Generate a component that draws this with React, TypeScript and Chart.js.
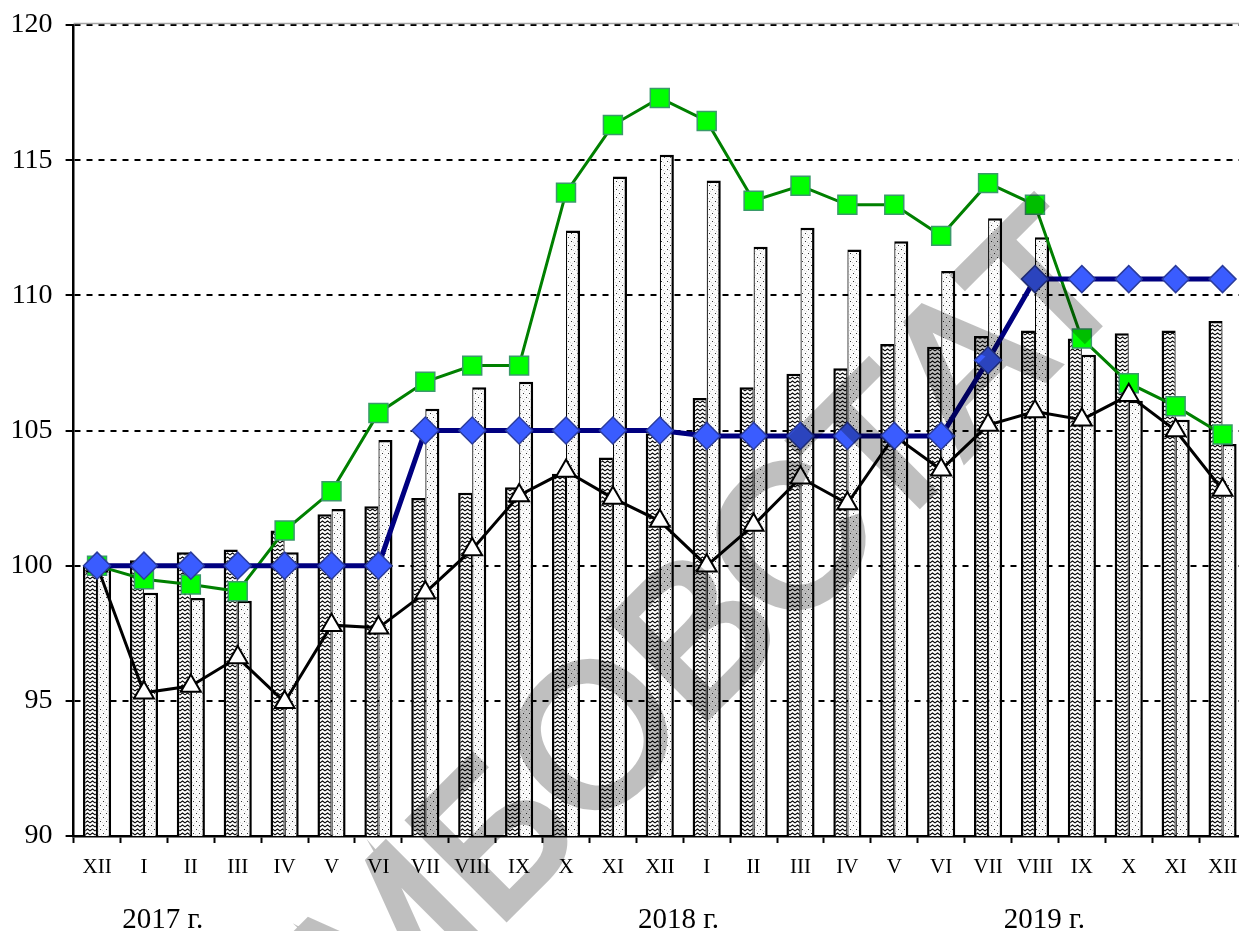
import React, { useEffect, useRef } from 'react';
import { Chart, registerables } from 'chart.js';

Chart.register(...registerables);

// ---------- data ----------
const categories = [
  'XII', 'I', 'II', 'III', 'IV', 'V', 'VI', 'VII', 'VIII', 'IX', 'X', 'XI', 'XII',
  'I', 'II', 'III', 'IV', 'V', 'VI', 'VII', 'VIII', 'IX', 'X', 'XI', 'XII',
];

const wavyBars = [
  100, 100.2, 100.5, 100.6, 101.3, 101.9, 102.2, 102.5, 102.7, 102.9, 103.4, 104.0, 104.9,
  106.2, 106.6, 107.1, 107.3, 108.2, 108.1, 108.5, 108.7, 108.4, 108.6, 108.7, 109.05,
];

const dottedBars = [
  99.9, 99.0, 98.8, 98.7, 100.5, 102.1, 104.65, 105.8, 106.6, 106.8, 112.4, 114.4, 115.2,
  114.25, 111.8, 112.5, 111.7, 112.0, 110.9, 112.85, 112.15, 107.8, 106.1, 105.4, 104.5,
];

const greenSquares = [
  100, 99.5, 99.3, 99.05, 101.3, 102.75, 105.65, 106.8, 107.4, 107.4, 113.8, 116.3, 117.3,
  116.45, 113.5, 114.05, 113.35, 113.35, 112.2, 114.15, 113.35, 108.4, 106.75, 105.9, 104.85,
];

const blueDiamonds = [
  100, 100, 100, 100, 100, 100, 100, 105, 105, 105, 105, 105, 105,
  104.8, 104.8, 104.8, 104.8, 104.8, 104.8, 107.6, 110.6, 110.6, 110.6, 110.6, 110.6,
];

const blackTriangles = [
  100, 95.3, 95.55, 96.6, 94.95, 97.8, 97.7, 99.0, 100.6, 102.6, 103.5, 102.5, 101.65,
  100.0, 101.5, 103.25, 102.3, 104.8, 103.55, 105.2, 105.7, 105.4, 106.3, 105.0, 102.8,
];

const yTickMin = 90;
const yTickMax = 120;
const yTickStep = 5;

const yearLabels = ['2017 г.', '2018 г.', '2019 г.'];
const yearLabelAnchors = [1.4, 12.4, 20.2]; // in category units

const watermarkText = 'ТАМБОВСТАТ';

// ---------- patterns ----------
function makeWavyPattern(ctx: CanvasRenderingContext2D): CanvasPattern | string {
  const c = document.createElement('canvas');
  c.width = 5;
  c.height = 4;
  const g = c.getContext('2d');
  if (!g) return '#888';
  g.fillStyle = '#ffffff';
  g.fillRect(0, 0, 5, 4);
  g.strokeStyle = '#000000';
  g.lineWidth = 1.1;
  g.beginPath();
  g.moveTo(-0.5, 3.3);
  g.lineTo(2.5, 1.0);
  g.lineTo(5.5, 3.3);
  g.stroke();
  return ctx.createPattern(c, 'repeat') || '#888';
}

function makeDottedPattern(ctx: CanvasRenderingContext2D): CanvasPattern | string {
  const c = document.createElement('canvas');
  c.width = 6;
  c.height = 8;
  const g = c.getContext('2d');
  if (!g) return '#eee';
  g.fillStyle = '#fbfbfb';
  g.fillRect(0, 0, 6, 8);
  g.fillStyle = '#d6d6d6';
  g.fillRect(3, 2, 1, 1);
  g.fillRect(0, 6, 1, 1);
  g.fillRect(5, 3, 1, 1);
  g.fillRect(2, 7, 1, 1);
  g.fillStyle = '#333333';
  g.fillRect(1, 1, 1, 1);
  g.fillRect(4, 5, 1, 1);
  return ctx.createPattern(c, 'repeat') || '#eee';
}

const serif = '"Liberation Serif", "Times New Roman", serif';

export default function App() {
  const canvasRef = useRef<HTMLCanvasElement | null>(null);

  useEffect(() => {
    document.body.style.margin = '0';
    const canvas = canvasRef.current;
    if (!canvas) return;
    const ctx = canvas.getContext('2d');
    if (!ctx) return;

    const wavy = makeWavyPattern(ctx);
    const dotted = makeDottedPattern(ctx);

    const decorPlugin = {
      id: 'decor',
      beforeDatasetsDraw(chart: any) {
        const { ctx: c, chartArea } = chart;
        c.save();
        c.strokeStyle = '#a6a6a6';
        c.lineWidth = 1.5;
        c.beginPath();
        c.moveTo(chartArea.left, chartArea.top - 1.5);
        c.lineTo(chartArea.right, chartArea.top - 1.5);
        c.stroke();
        c.restore();
      },
      afterDraw(chart: any) {
        const c: CanvasRenderingContext2D = chart.ctx;
        const xs = chart.scales.x;
        c.save();
        c.fillStyle = '#000';
        c.font = `29px ${serif}`;
        c.textAlign = 'center';
        c.textBaseline = 'alphabetic';
        yearLabels.forEach((t, i) => {
          c.fillText(t, xs.getPixelForValue(yearLabelAnchors[i]), 928);
        });
        c.restore();

        // watermark drawn opaque off-screen, then blended with transparency
        const off = document.createElement('canvas');
        off.width = chart.width;
        off.height = chart.height;
        const o: any = off.getContext('2d');
        if (!o) return;
        const size = 200;
        o.font = `${size}px "Liberation Sans", Arial, sans-serif`;
        o.fillStyle = '#000';
        o.strokeStyle = '#000';
        o.lineWidth = 7;
        o.translate(585, 738);
        o.rotate(-Math.PI / 4);
        const pre = o.measureText(watermarkText.slice(0, 4)).width;
        const ow = o.measureText(watermarkText.charAt(4)).width;
        o.textAlign = 'left';
        o.textBaseline = 'alphabetic';
        const tx = -(pre + ow / 2) + 10;
        const ty = 0.358 * size;
        o.fillText(watermarkText, tx, ty);
        o.strokeText(watermarkText, tx, ty);
        c.save();
        c.globalAlpha = 0.25;
        c.drawImage(off, 0, 0);
        c.restore();
      },
    };

    const chart = new Chart(ctx, {
      type: 'bar',
      data: {
        labels: categories,
        datasets: [
          {
            type: 'line',
            data: blueDiamonds,
            borderColor: '#000080',
            borderWidth: 5,
            pointStyle: 'rectRot',
            pointRadius: 13.5,
            pointBackgroundColor: '#3a5cff',
            pointBorderColor: '#2b3c9c',
            pointBorderWidth: 1.5,
            tension: 0,
            order: 0,
          },
          {
            type: 'line',
            data: blackTriangles,
            borderColor: '#000000',
            borderWidth: 3,
            pointStyle: 'triangle',
            pointRadius: 11.5,
            pointBackgroundColor: '#ffffff',
            pointBorderColor: '#000000',
            pointBorderWidth: 2,
            tension: 0,
            order: 1,
          },
          {
            type: 'line',
            data: greenSquares,
            borderColor: '#008000',
            borderWidth: 3,
            pointStyle: 'rect',
            pointRadius: 13.4,
            pointBackgroundColor: '#00ff00',
            pointBorderColor: '#3a9a6a',
            pointBorderWidth: 1.5,
            tension: 0,
            order: 2,
          },
          {
            type: 'bar',
            data: wavyBars,
            backgroundColor: wavy as any,
            borderColor: '#000',
            borderWidth: { left: 2.5, right: 1.2, top: 2.5, bottom: 0 } as any,
            borderSkipped: 'start',
            barPercentage: 1,
            categoryPercentage: 0.6,
            order: 3,
          },
          {
            type: 'bar',
            data: dottedBars,
            backgroundColor: dotted as any,
            borderColor: '#000',
            borderWidth: { left: 1.2, right: 2.5, top: 2.5, bottom: 0 } as any,
            borderSkipped: 'start',
            barPercentage: 1,
            categoryPercentage: 0.6,
            order: 3,
          },
        ] as any,
      },
      options: {
        responsive: false,
        animation: false,
        devicePixelRatio: 1,
        layout: { padding: { top: 25, left: 0, right: 0, bottom: 0 } },
        plugins: {
          legend: { display: false },
          tooltip: { enabled: false },
        },
        scales: {
          x: {
            offset: true,
            ticks: {
              color: '#000',
              font: { family: serif, size: 21 },
              padding: 12,
              autoSkip: false,
              maxRotation: 0,
            },
            grid: {
              display: true,
              drawOnChartArea: false,
              drawTicks: true,
              tickLength: 7,
              tickColor: '#000',
              tickWidth: 2,
              offset: true,
            },
            border: { display: true, color: '#000', width: 2.5 },
            afterFit: (s: any) => {
              s.height = 95;
              s.paddingLeft = 0;
              s.paddingRight = 0;
            },
          },
          y: {
            min: yTickMin,
            max: yTickMax,
            ticks: {
              stepSize: yTickStep,
              color: '#000',
              font: { family: serif, size: 28 },
              padding: 13,
            },
            grid: {
              color: '#000',
              lineWidth: 2,
              drawTicks: true,
              tickLength: 8,
              tickColor: '#000',
              tickWidth: 2,
              tickBorderDash: [],
            },
            border: { display: true, color: '#000', width: 2.5, dash: [6, 6] },
            afterFit: (s: any) => {
              s.width = 73.6;
              s.paddingTop = 0;
              s.paddingBottom = 0;
            },
          },
        },
      } as any,
      plugins: [decorPlugin],
    });

    return () => {
      chart.destroy();
    };
  }, []);

  return (
    <div style={{ width: 1239, height: 931, overflow: 'hidden', background: '#fff' }}>
      <canvas ref={canvasRef} width={1261} height={931} style={{ width: 1261, height: 931, display: 'block' }} />
    </div>
  );
}
